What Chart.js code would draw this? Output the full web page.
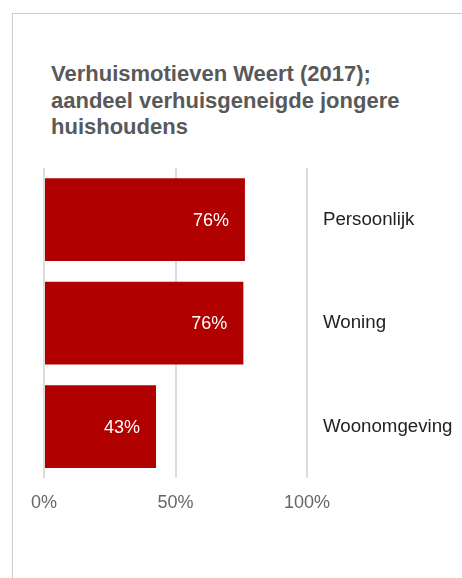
<!DOCTYPE html>
<html>
<head>
<meta charset="utf-8">
<script src="https://cdn.jsdelivr.net/npm/chart.js@4"></script>
<style>
  html, body { margin: 0; padding: 0; background: #fff; }
  #card {
    position: absolute; left: 12px; top: 13px; width: 460px; height: 580px;
    border-left: 1px solid #cccccc; border-top: 1px solid #cccccc;
  }
  #title {
    position: absolute; left: 51px; top: 61px; width: 410px;
    font-family: "Liberation Sans", Arial, sans-serif; font-weight: bold;
    font-size: 22px; line-height: 26.5px; color: #595959;
  }
  #wrap { position: absolute; left: 0; top: 0; width: 462px; height: 578px; }
</style>
</head>
<body>
<div id="card"></div>
<div id="title">Verhuismotieven Weert (2017);<br>aandeel verhuisgeneigde jongere<br>huishoudens</div>
<div id="wrap"><canvas id="chart"></canvas></div>
<script>
const categories = ["Persoonlijk", "Woning", "Woonomgeving"];
const shares = [76.4, 75.8, 42.6];
const tickValues = [0, 50, 100];

// labels inside the bars, right aligned
const barLabels = {
    id: 'barLabels',
    afterDatasetsDraw(chart) {
        const ctx = chart.ctx;
        const meta = chart.getDatasetMeta(0);
        ctx.save();
        ctx.font = '18px "Liberation Sans", Arial, sans-serif';
        ctx.fillStyle = '#ffffff';
        ctx.textAlign = 'right';
        ctx.textBaseline = 'middle';
        meta.data.forEach((bar, i) => {
            ctx.fillText(Math.round(shares[i]) + '%', bar.x - 16, bar.y + 1);
        });
        ctx.restore();
    }
};

new Chart(document.getElementById('chart'), {
    type: 'bar',
    data: {
        labels: categories,
        datasets: [{
            data: shares,
            backgroundColor: '#b00000',
            barPercentage: 0.8,
            categoryPercentage: 1.0
        }]
    },
    options: {
        indexAxis: 'y',
        responsive: true,
        maintainAspectRatio: false,
        animation: false,
        layout: { padding: { top: 168, left: 44, right: 0, bottom: 50 } },
        plugins: {
            legend: { display: false },
            tooltip: { enabled: false },
            title: { display: false }
        },
        scales: {
            x: {
                min: 0, max: 100,
                afterBuildTicks: axis => { axis.ticks = tickValues.map(v => ({ value: v })); },
                grid: { color: '#dcdcdc', lineWidth: 2, drawTicks: false },
                border: { display: false },
                ticks: {
                    padding: 14,
                    color: '#666666',
                    font: { family: '"Liberation Sans", Arial, sans-serif', size: 18 },
                    callback: v => v + '%'
                }
            },
            y: {
                position: 'right',
                afterFit: axis => { axis.width = 155; },
                grid: { display: false, drawTicks: false },
                border: { display: false },
                ticks: {
                    padding: 16,
                    color: '#222222',
                    font: { family: '"Liberation Sans", Arial, sans-serif', size: 18.7 }
                }
            }
        }
    },
    plugins: [barLabels]
});
</script>
</body>
</html>
